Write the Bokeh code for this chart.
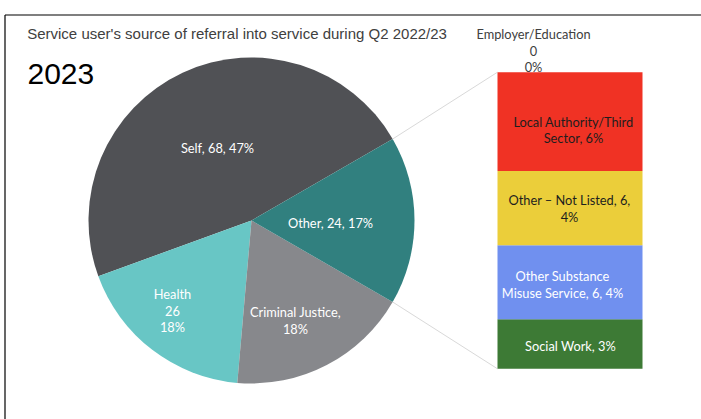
import math
from bokeh.plotting import figure
from bokeh.models import Range1d, ColumnDataSource
from bokeh.core.properties import value
from bokeh.embed import file_html
from bokeh.resources import INLINE

# ---------------- data ----------------
title_text = "Service user's source of referral into service during Q2 2022/23"
year_text = "2023"

main_labels = ["Self", "Health", "Criminal Justice", "Other"]
main_values = [68, 26, 26, 24]

sec_labels = ["Social Work", "Other Substance Misuse Service", "Other \u2013 Not Listed",
              "Local Authority/Third Sector", "Employer/Education"]
sec_values = [4, 6, 6, 8, 0]

# ---------------- styles / layout ----------------
main_colors = ["#505155", "#68C6C5", "#87888C", "#31807F"]
main_text_colors = ["white", "white", "white", "white"]
sec_colors = ["#3D7A35", "#7090EF", "#EBCE3A", "#F03224", "#A5A5A5"]
sec_text_colors = ["white", "white", "#1E1E1E", "#1E1E1E", "#404040"]

# label line templates ({l}=label, {v}=value, {p}=percent)
main_templates = [["{l}, {v}, {p}%"], ["{l}", "{v}", "{p}%"], ["{l},", "{p}%"], ["{l}, {v}, {p}%"]]
sec_templates = [["{l}, {p}%"], ["Other Substance", "Misuse Service, {v}, {p}%"],
                 ["{l}, {v},", "{p}%"], ["Local Authority/Third", "Sector, {p}%"],
                 ["{l}", "{v}", "{p}%"]]

W, H = 701, 419
def Y(sy):  # screen y -> data y
    return H - sy

cx, cy, R = 251, Y(220), 163
bar_left, bar_right = 497, 642
bar_top_Y, bar_bot_Y = Y(71.7), Y(368.3)
# label block centres (screen px)
main_label_pos = [(217, 147), (172, 310), (295, 320), (330, 222)]
sec_label_pos = [(570, 345.7), (562, 284.3), (569, 208), (573, 129.5), (533, 50)]
line_gap = 16.7
label_font = "Lato"
label_size = "12.8px"

total = sum(main_values)
other_total = sum(sec_values)

p = figure(width=W, height=H, x_range=Range1d(0, W), y_range=Range1d(0, H),
           output_backend="svg", toolbar_location=None, min_border=0,
           x_axis_type=None, y_axis_type=None)
p.grid.visible = False
p.outline_line_color = None
p.background_fill_color = "white"

# stacked bar range
u = other_total / (bar_top_Y - bar_bot_Y)
p.extra_y_ranges = {"stack": Range1d(0 - bar_bot_Y * u, other_total + (H - bar_top_Y) * u)}

# frame border
p.segment(x0=[4.5, 4.5], y0=[Y(14.5), Y(14.5)], x1=[W, 4.5], y1=[Y(14.5), 0],
          line_color="black", line_width=1.2)

# pie
half_other = main_values[-1] / total * math.pi
starts, ends = [], []
a = half_other
for v in main_values:
    starts.append(a)
    a += v / total * 2 * math.pi
    ends.append(a)
pie_src = ColumnDataSource(dict(start=starts, end=ends, color=main_colors, label=main_labels, val=main_values))
p.wedge(x=cx, y=cy, radius=R, start_angle="start", end_angle="end", color="color",
        line_color=None, source=pie_src)

# connector lines
p1 = (cx + R * math.cos(half_other), cy + R * math.sin(half_other))
p2 = (cx + R * math.cos(-half_other), cy + R * math.sin(-half_other))
p.segment(x0=[p1[0], p2[0]], y0=[p1[1], p2[1]], x1=[bar_left, bar_left], y1=[bar_top_Y, bar_bot_Y],
          line_color="#D9D9D9", line_width=1)

# stacked bar
bots, tops = [], []
c = 0
for v in sec_values:
    bots.append(c)
    c += v
    tops.append(c)
bar_src = ColumnDataSource(dict(bottom=bots, top=tops, color=sec_colors, label=sec_labels, val=sec_values))
p.quad(left=bar_left, right=bar_right, bottom="bottom", top="top", color="color",
       line_color=None, y_range_name="stack", source=bar_src)

# labels
tx, ty, tt, tc = [], [], [], []
def add_block(lines, pos, color):
    n = len(lines)
    for i, ln in enumerate(lines):
        tx.append(pos[0])
        ty.append(Y(pos[1] + (i - (n - 1) / 2) * line_gap))
        tt.append(ln)
        tc.append(color)

for lab, v, tmpl, pos, col in zip(main_labels, main_values, main_templates, main_label_pos, main_text_colors):
    pct = round(v / total * 100)
    add_block([t.format(l=lab, v=v, p=pct) for t in tmpl], pos, col)
for lab, v, tmpl, pos, col in zip(sec_labels, sec_values, sec_templates, sec_label_pos, sec_text_colors):
    pct = round(v / total * 100)
    add_block([t.format(l=lab, v=v, p=pct) for t in tmpl], pos, col)

lab_src = ColumnDataSource(dict(x=tx, y=ty, text=tt, color=tc))
p.text(x="x", y="y", text="text", text_color="color", source=lab_src,
       text_font=value(label_font), text_font_size=label_size,
       text_align="center", text_baseline="middle")

# title & year
p.text(x=[26.7], y=[Y(33)], text=[title_text], text_font=value("Liberation Sans"),
       text_font_size="15px", text_color="#404040", text_align="left", text_baseline="middle")
p.text(x=[27], y=[Y(73.5)], text=[year_text], text_font=value("Liberation Sans"),
       text_font_size="30px", text_color="black", text_align="left", text_baseline="middle")

open("out.html", "w").write(file_html(p, INLINE))
